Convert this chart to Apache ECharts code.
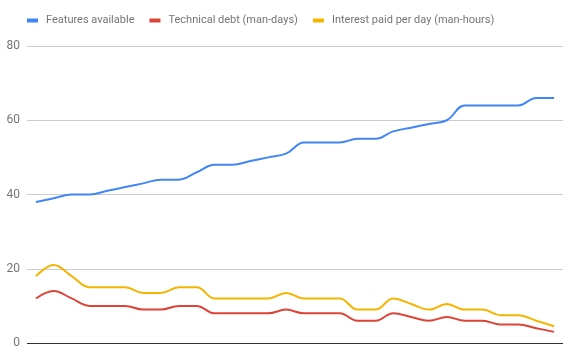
<!DOCTYPE html>
<html>
<head>
<meta charset="utf-8">
<script src="https://cdn.jsdelivr.net/npm/echarts@6/dist/echarts.min.js"></script>
<style>
html,body{margin:0;padding:0;background:#fff;}
#chart{width:572px;height:361px;}
</style>
</head>
<body>
<div id="chart"></div>
<script>
var categories = [];
for (var k = 1; k <= 30; k++) categories.push(String(k));
var featuresAvailable = [38, 39, 40, 40, 41, 42, 43, 44, 44, 46, 48, 48, 49, 50, 51, 54, 54, 54, 55, 55, 57, 58, 59, 60, 64, 64, 64, 64, 66, 66];
var technicalDebt = [12, 14, 12, 10, 10, 10, 9, 9, 10, 10, 8, 8, 8, 8, 9, 8, 8, 8, 6, 6, 8, 7, 6, 7, 6, 6, 5, 5, 4, 3];
var interestPaid = [18, 21, 18, 15, 15, 15, 13.5, 13.5, 15, 15, 12, 12, 12, 12, 13.5, 12, 12, 12, 9, 9, 12, 10.5, 9, 10.5, 9, 9, 7.5, 7.5, 6, 4.5];
var seriesNames = ['Features available', 'Technical debt (man-days)', 'Interest paid per day (man-hours)'];
var yTicks = [0, 20, 40, 60, 80];

var chart = echarts.init(document.getElementById('chart'), null, {renderer: 'canvas'});
var fontFamily = 'Roboto, Arial, sans-serif';
function mk(name, data, color) {
  return {
    name: name, type: 'line', data: data, smooth: 0.4,
    symbol: 'none', showSymbol: false,
    lineStyle: {width: 2, color: color}, itemStyle: {color: color}
  };
}
chart.setOption({
  animation: false,
  color: ['#4285F4', '#DB4437', '#F4B400'],
  legend: {
    left: 27, top: 15, padding: 0,
    icon: 'rect', itemWidth: 11, itemHeight: 4, itemGap: 15,
    textStyle: {color: '#757575', fontSize: 11, fontFamily: fontFamily, padding: [0,0,0,3]},
    data: seriesNames
  },
  grid: {left: 27, right: 9, top: 46, bottom: 18, containLabel: false},
  xAxis: {
    type: 'category', data: categories, boundaryGap: true,
    axisLine: {show: false}, axisTick: {show: false}, axisLabel: {show: false}, splitLine: {show: false}
  },
  yAxis: {
    type: 'value', min: yTicks[0], max: yTicks[yTicks.length-1], interval: 20,
    axisLine: {show: false}, axisTick: {show: false},
    axisLabel: {color: '#757575', fontSize: 12, fontFamily: fontFamily, margin: 7},
    splitLine: {lineStyle: {color: '#cccccc', width: 1}}
  },
  series: [
    mk(seriesNames[0], featuresAvailable, '#4285F4'),
    mk(seriesNames[1], technicalDebt, '#DB4437'),
    mk(seriesNames[2], interestPaid, '#F4B400'),
    {
      type: 'line', data: [], silent: true,
      markLine: {
        symbol: 'none', silent: true, label: {show: false},
        lineStyle: {color: '#333333', width: 1, type: 'solid'},
        data: [{yAxis: 0}]
      }
    }
  ]
});
</script>
</body>
</html>
